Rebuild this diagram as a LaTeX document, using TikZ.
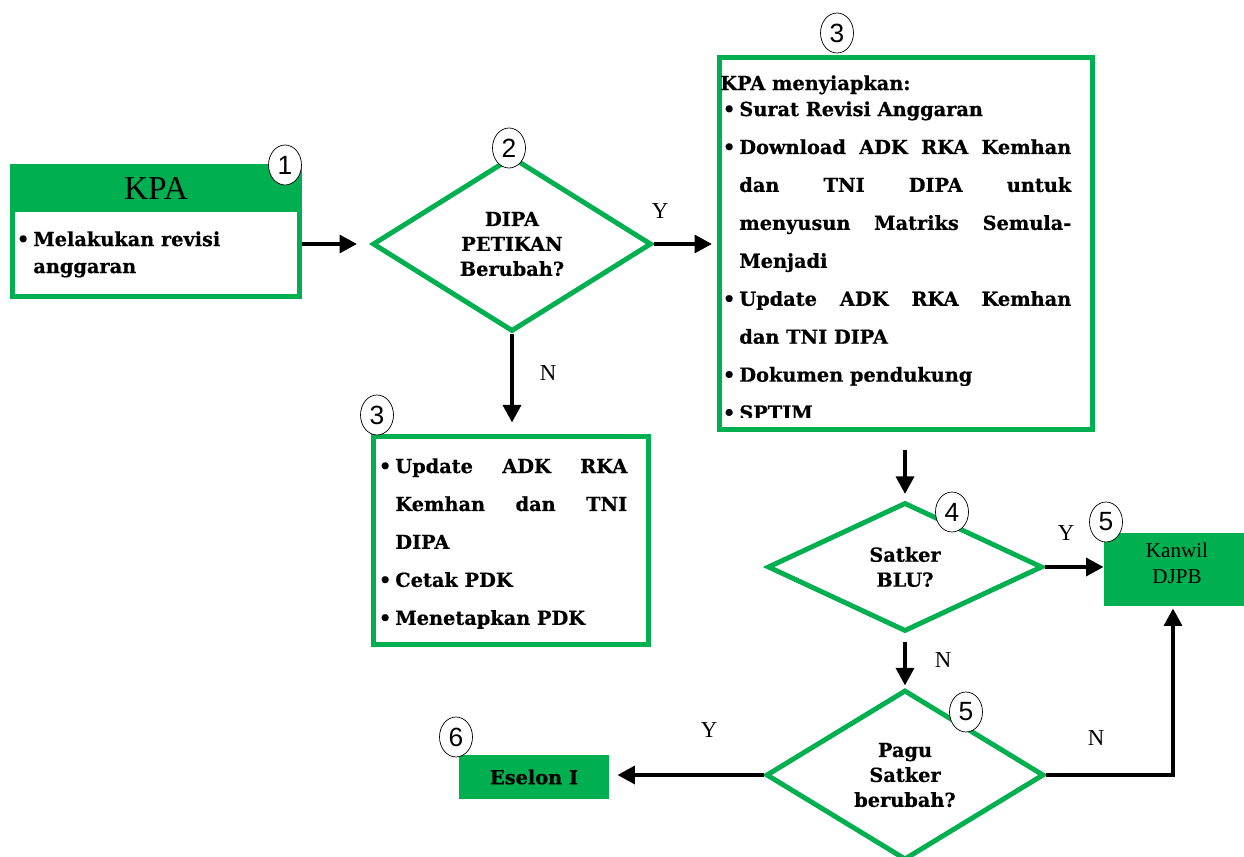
\documentclass[tikz,border=0pt]{standalone}
\usepackage{fontspec}
\setmainfont{Liberation Serif}
\newfontfamily\boldserif{DejaVu Serif}[BoldFeatures={FakeBold=0.6}]
\newfontfamily\numsans{Liberation Sans}
\usepackage{tikz}
\usetikzlibrary{arrows,arrows.meta,shapes,positioning,calc}
\usepackage{xcolor}
\definecolor{kgreen}{HTML}{00B050}
\newcommand{\bulstart}{\hangindent=0.38cm\hangafter=1\noindent\makebox[0.38cm][l]{\hspace{1.5pt}\textbullet}}
\newcommand{\bul}{\par\bulstart}
\tikzset{
  box/.style      = {draw=kgreen, line width=2.8pt, rectangle, inner sep=0pt},
  decision/.style = {draw=kgreen, line width=2.8pt, diamond, inner sep=0pt, align=center,
                     font=\boldserif\bfseries\fontsize{11}{14.2}\selectfont},
  filled/.style   = {fill=kgreen, rectangle, inner sep=0pt, align=center},
  num/.style      = {draw, thin, ellipse, fill=white, inner sep=0pt, minimum width=0.66cm,
                     minimum height=0.8cm, font=\numsans\fontsize{15}{15}\selectfont},
  yn/.style       = {inner sep=0pt, font=\fontsize{13}{13}\selectfont},
  conn/.style     = {draw, -{Triangle[length=10pt, width=10pt]}, line width=2.8pt},
  listtext/.style = {inner sep=0pt, anchor=north west, align=justify,
                     font=\boldserif\bfseries\fontsize{11}{21.6}\selectfont}
}
\begin{document}
\begin{tikzpicture}[x=0.02cm, y=-0.02cm]
\useasboundingbox (0,0) rectangle (1244,857);

% langkah 1
\node[box, minimum width=5.74cm, minimum height=2.6cm] (kpa) at (156,231.5) {};
\node[filled, minimum width=5.84cm, minimum height=0.96cm, font=\fontsize{19}{19}\selectfont] (kpahead) at (156,188) {KPA};
\node[listtext, text width=5.5cm, font=\boldserif\bfseries\fontsize{11}{15.4}\selectfont] (kpatext) at (14,231) {\bulstart Melakukan revisi\hfil\break anggaran\par};

% langkah 2
\node[decision, minimum width=5.58cm, minimum height=3.5cm] (dipa) at (512,244) {DIPA\\PETIKAN\\Berubah?};

% langkah 3
\node[box, minimum width=7.46cm, minimum height=7.44cm] (rincian) at (906,243.5) {};
\begin{scope}
\clip (717,55) rectangle (1095,418);
\node[listtext, text width=7.02cm] (rinciantext) at (720,75) {\noindent KPA menyiapkan:\par\vspace{-6.8pt}
\bul Surat Revisi Anggaran
\bul Download ADK RKA Kemhan\linebreak dan TNI DIPA untuk\linebreak menyusun Matriks Semula-\linebreak Menjadi
\bul Update ADK RKA Kemhan\linebreak dan TNI DIPA
\bul Dokumen pendukung
\bul SPTJM\par};
\end{scope}

\node[box, minimum width=5.5cm, minimum height=4.16cm] (update) at (511,540.5) {};
\node[listtext, text width=5.02cm] (updatetext) at (376,458) {\bulstart Update ADK RKA\linebreak Kemhan dan TNI\linebreak DIPA
\bul Cetak PDK
\bul Menetapkan PDK\par};

% langkah 4 - 6
\node[decision, minimum width=5.5cm, minimum height=2.58cm] (blu) at (905,567) {Satker\\BLU?};
\node[filled, minimum width=2.84cm, minimum height=1.46cm] (kanwil) at (1175,569.5) {};
\node[align=center, inner sep=0pt, font=\fontsize{12}{14.8}\selectfont] (kanwiltext) at (1177,563) {Kanwil\\DJPB};
\node[decision, minimum width=5.56cm, minimum height=3.4cm] (pagu) at (905,775) {Pagu\\Satker\\berubah?};
\node[filled, minimum width=3cm, minimum height=0.88cm, font=\boldserif\bfseries\fontsize{11}{11}\selectfont] (eselon) at (534,777) {Eselon I};

% nomor
\node[num] (n1) at (285,165) {1};
\node[num] (n2) at (509,148) {2};
\node[num] (n3a) at (837,33) {3};
\node[num] (n3b) at (377,415) {3};
\node[num] (n4) at (952,512) {4};
\node[num] (n5a) at (1106,522) {5};
\node[num] (n5b) at (966,712) {5};
\node[num] (n6) at (456,737) {6};

% label Y / N
\node[yn] (ya) at (660,211) {Y};
\node[yn] (na) at (548,373) {N};
\node[yn] (yb) at (1066,533) {Y};
\node[yn] (nb) at (943,660) {N};
\node[yn] (yc) at (709,730) {Y};
\node[yn] (nc) at (1096,738) {N};

\path [conn, shorten >=0.26cm] (dipa.west -| kpa.east) -- (dipa.west);
\path [conn, shorten >=0.1cm] (dipa.east) -- (dipa.east -| rincian.west);
\path [conn, shorten >=0.23cm] (dipa.south) -- (dipa.south |- update.north);
\path [conn, shorten <=0.37cm, shorten >=0.12cm] (blu.north |- rincian.south) -- (blu.north);
\path [conn] (blu.east) -- (blu.east -| kanwil.west);
\path [conn, shorten <=0.16cm, shorten >=0.04cm] (blu.south) -- (pagu.north);
\path [conn, shorten >=0.16cm] (pagu.west) -- (pagu.west -| eselon.east);
\path [conn, shorten >=0.04cm] (pagu.east) -| ([xshift=-0.04cm]kanwil.south);

\end{tikzpicture}
\end{document}
